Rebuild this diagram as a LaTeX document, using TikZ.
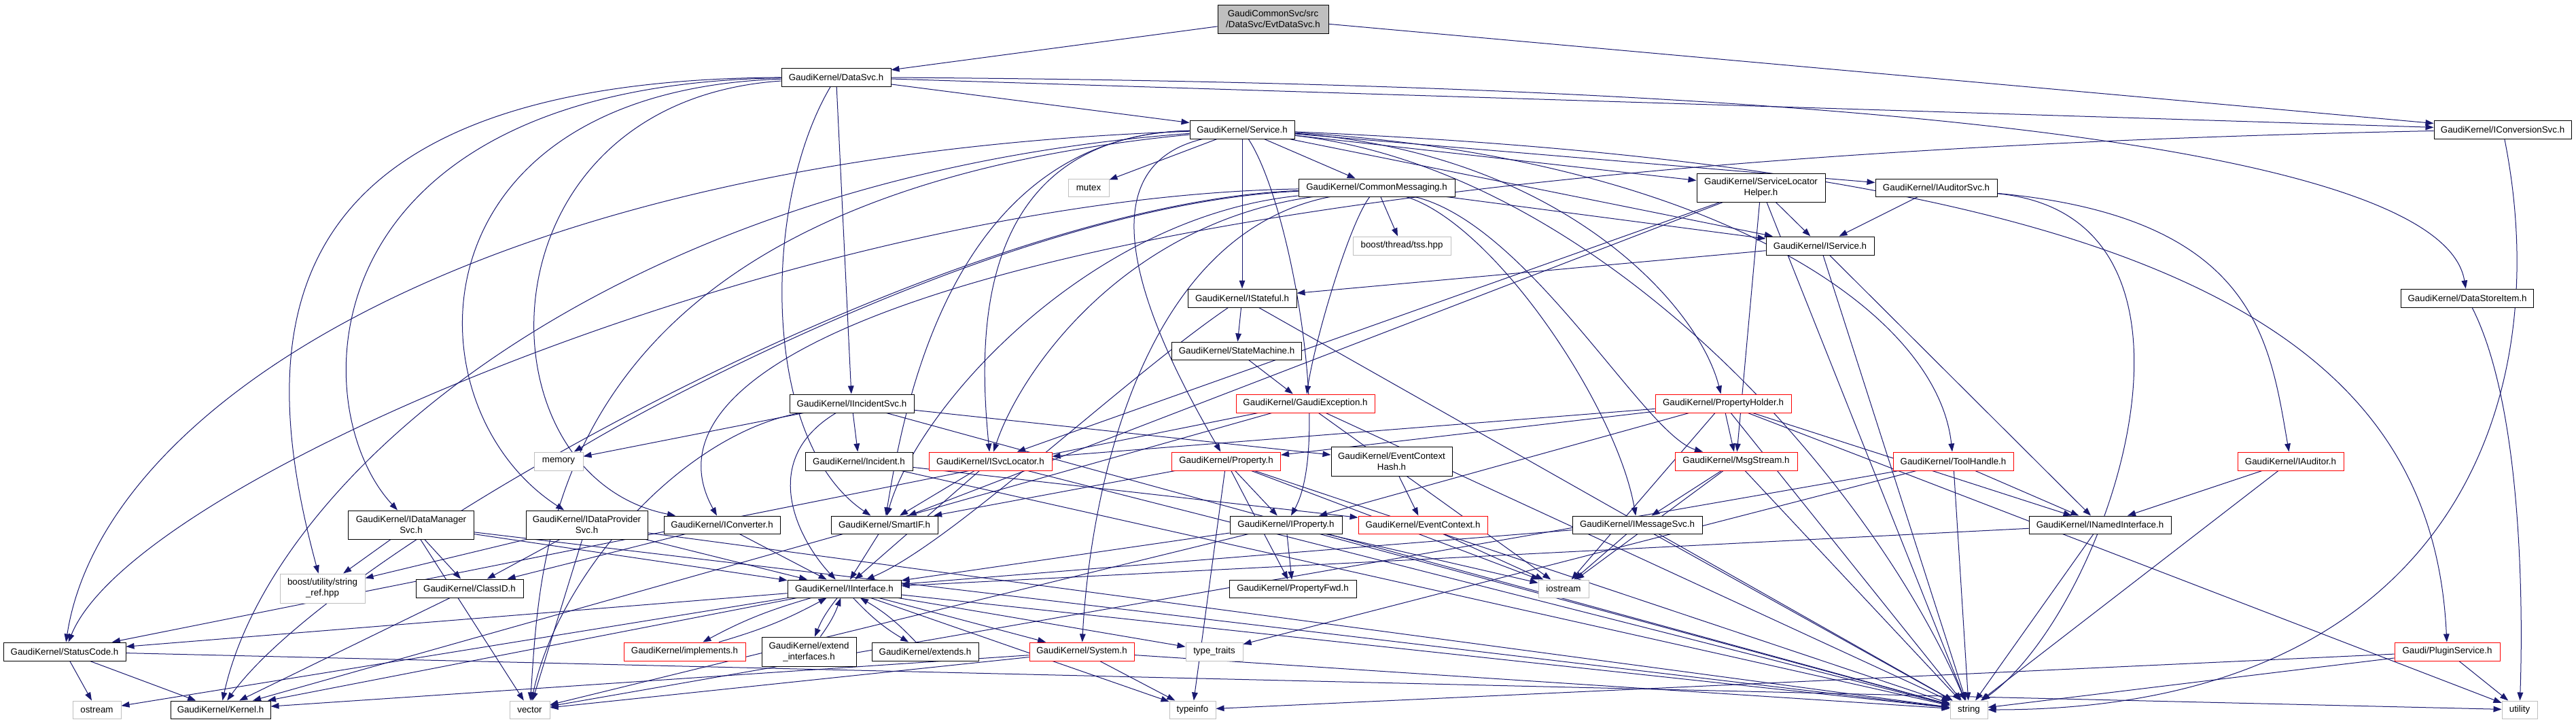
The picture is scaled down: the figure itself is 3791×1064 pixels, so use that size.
\documentclass[tikz,border=0pt]{standalone}
\usepackage{fontspec}
\setmainfont{Liberation Sans}
\usetikzlibrary{arrows.meta}
\definecolor{edgeblue}{RGB}{25,25,112}
\definecolor{sysgray}{RGB}{191,191,191}
\pgfdeclarelayer{bg}
\pgfsetlayers{bg,main}
\newcommand{\gnode}[7]{\node[#1, minimum width=#5*0.75pt, minimum height=#6*0.75pt] (#2) at (#3,#4) {#7};}
\begin{document}
\begin{tikzpicture}[x=0.75pt,y=-0.75pt,
  nodebase/.style={draw, inner sep=0pt, font=\fontsize{10}{12}\selectfont, align=center, fill=white, line width=0.75pt},
  gbox/.style={nodebase, draw=black},
  rbox/.style={nodebase, draw=red},
  sbox/.style={nodebase, draw=sysgray},
  rootbox/.style={nodebase, draw=black, fill=sysgray},
  lnk/.style={draw=edgeblue, line width=0.75pt, -{Triangle[length=9pt,width=6.5pt]}}]
\useasboundingbox (0,0) rectangle (3791,1064);
% nodes
\gnode{rootbox}{evt}{1873.5}{28}{163}{42}{GaudiCommonSvc/src\\/DataSvc/EvtDataSvc.h}
\gnode{gbox}{datasvc}{1230.5}{113.5}{161}{27}{GaudiKernel/DataSvc.h}
\gnode{gbox}{service}{1828}{190.5}{154}{27}{GaudiKernel/Service.h}
\gnode{gbox}{iconv}{3683}{190.5}{202}{27}{GaudiKernel/IConversionSvc.h}
\gnode{sbox}{mutex}{1602}{276}{60}{26}{mutex}
\gnode{gbox}{cmsg}{2026}{276}{230}{26}{GaudiKernel/CommonMessaging.h}
\gnode{gbox}{slh}{2591.5}{276}{189}{42}{GaudiKernel/ServiceLocator\\Helper.h}
\gnode{gbox}{iaudsvc}{2849.5}{276}{179}{26}{GaudiKernel/IAuditorSvc.h}
\gnode{sbox}{tss}{2063}{361.5}{144}{27}{boost/thread/tss.hpp}
\gnode{gbox}{iservice}{2678.5}{361.5}{159}{27}{GaudiKernel/IService.h}
\gnode{gbox}{istateful}{1828}{438.5}{160}{27}{GaudiKernel/IStateful.h}
\gnode{gbox}{dsitem}{3631}{438.5}{195}{27}{GaudiKernel/DataStoreItem.h}
\gnode{gbox}{statemachine}{1820}{516}{191}{26}{GaudiKernel/StateMachine.h}
\gnode{gbox}{iincsvc}{1253.5}{593.5}{183}{27}{GaudiKernel/IIncidentSvc.h}
\gnode{rbox}{gexc}{1921}{593.5}{204}{27}{GaudiKernel/GaudiException.h}
\gnode{rbox}{propholder}{2536}{593.5}{200}{27}{GaudiKernel/PropertyHolder.h}
\gnode{sbox}{memory}{822}{678.5}{72}{27}{memory}
\gnode{gbox}{incident}{1264}{678.5}{158}{27}{GaudiKernel/Incident.h}
\gnode{rbox}{isvcloc}{1457.5}{678.5}{181}{27}{GaudiKernel/ISvcLocator.h}
\gnode{rbox}{property}{1804.5}{678.5}{160}{27}{GaudiKernel/Property.h}
\gnode{gbox}{echash}{2048}{678.5}{178}{43}{GaudiKernel/EventContext\\Hash.h}
\gnode{rbox}{msgstream}{2555}{678.5}{180}{27}{GaudiKernel/MsgStream.h}
\gnode{rbox}{toolhandle}{2874.5}{678.5}{177}{27}{GaudiKernel/ToolHandle.h}
\gnode{rbox}{iauditor}{3371}{678.5}{156}{27}{GaudiKernel/IAuditor.h}
\gnode{gbox}{idms}{605}{772}{185}{42}{GaudiKernel/IDataManager\\Svc.h}
\gnode{gbox}{idps}{863.5}{772}{179}{42}{GaudiKernel/IDataProvider\\Svc.h}
\gnode{gbox}{iconverter}{1062.5}{772}{171}{26}{GaudiKernel/IConverter.h}
\gnode{gbox}{smartif}{1301.5}{772}{157}{26}{GaudiKernel/SmartIF.h}
\gnode{gbox}{iproperty}{1892.5}{772}{165}{26}{GaudiKernel/IProperty.h}
\gnode{rbox}{evctx}{2094}{772}{190}{26}{GaudiKernel/EventContext.h}
\gnode{gbox}{imsgsvc}{2409.5}{772}{191}{26}{GaudiKernel/IMessageSvc.h}
\gnode{gbox}{inamed}{3090.5}{772}{209}{26}{GaudiKernel/INamedInterface.h}
\gnode{sbox}{stringref}{474.5}{865.5}{125}{43}{boost/utility/string\\\_ref.hpp}
\gnode{gbox}{classid}{691}{865.5}{158}{27}{GaudiKernel/ClassID.h}
\gnode{gbox}{iinterface}{1242.5}{866}{167}{26}{GaudiKernel/IInterface.h}
\gnode{gbox}{propfwd}{1902.5}{866}{187}{26}{GaudiKernel/PropertyFwd.h}
\gnode{sbox}{iostream}{2301}{866}{74}{26}{iostream}
\gnode{gbox}{statuscode}{95}{958.5}{180}{27}{GaudiKernel/StatusCode.h}
\gnode{rbox}{implements}{1007.5}{958.5}{179}{27}{GaudiKernel/implements.h}
\gnode{gbox}{extendif}{1190.5}{958.5}{139}{43}{GaudiKernel/extend\\\_interfaces.h}
\gnode{gbox}{extends}{1361.5}{958.5}{157}{27}{GaudiKernel/extends.h}
\gnode{rbox}{system}{1592}{958.5}{154}{27}{GaudiKernel/System.h}
\gnode{sbox}{typetraits}{1787}{958.5}{84}{27}{type\_traits}
\gnode{rbox}{plugin}{3601.5}{958.5}{155}{27}{Gaudi/PluginService.h}
\gnode{sbox}{ostream}{142.5}{1044}{71}{26}{ostream}
\gnode{gbox}{kernel}{324.5}{1044}{147}{26}{GaudiKernel/Kernel.h}
\gnode{sbox}{vector}{779.5}{1044}{59}{26}{vector}
\gnode{sbox}{typeinfo}{1755}{1044}{68}{26}{typeinfo}
\gnode{sbox}{string}{2897.5}{1044}{55}{26}{string}
\gnode{sbox}{utility}{3708}{1044}{52}{26}{utility}
\begin{pgfonlayer}{bg}
\fill[white] (0,0) rectangle (3791,1064);
% root
\draw[lnk] (evt) -- (datasvc);
\draw[lnk] (evt) -- (iconv);
% DataSvc
\draw[lnk] (datasvc) -- (service);
\draw[lnk] (datasvc) -- (iconv);
\draw[lnk] (datasvc) .. controls (3000,125) and (3600,250) .. (dsitem);
\draw[lnk] (datasvc) -- (iincsvc);
\draw[lnk] (datasvc) .. controls (376,118) and (376,500) .. (stringref);
\draw[lnk] (datasvc) .. controls (445,125) and (445,600) .. (idms);
\draw[lnk] (datasvc) .. controls (597,135) and (597,600) .. (idps);
\draw[lnk] (datasvc) .. controls (697,150) and (697,700) .. (iconverter);
\draw[lnk] (datasvc) .. controls (1120,300) and (1120,650) .. (smartif);
% Service
\draw[lnk] (service) -- (mutex);
\draw[lnk] (service) -- (cmsg);
\draw[lnk] (service) -- (istateful);
\draw[lnk] (service) -- (slh);
\draw[lnk] (service) -- (iaudsvc);
\draw[lnk] (service) -- (iservice);
\draw[lnk] (service) .. controls (2300,225) and (2500,450) .. (propholder);
\draw[lnk] (service) .. controls (2500,230) and (2850,450) .. (toolhandle);
\draw[lnk] (service) .. controls (3200,250) and (3580,500) .. (plugin);
\draw[lnk] (service) .. controls (1430,200) and (1440,500) .. (isvcloc);
\draw[lnk] (service) .. controls (1580,250) and (1700,500) .. (property);
\draw[lnk] (service) .. controls (1400,200) and (1330,600) .. (smartif);
\draw[lnk] (service) .. controls (1900,300) and (1960,650) .. (iproperty);
\draw[lnk] (service) .. controls (700,230) and (150,600) .. (statuscode);
\draw[lnk] (service) .. controls (800,290) and (797,800) .. (vector);
\draw[lnk] (service) .. controls (900,260) and (400,700) .. (kernel);
\draw[lnk] (service) .. controls (2350,250) and (2750,700) .. (string);
% IConversionSvc
\draw[lnk] (iconv) .. controls (1700,230) and (900,480) .. (iconverter);
\draw[lnk] (iconv) .. controls (3765,600) and (3600,1044) .. (string);
% CommonMessaging
\draw[lnk] (cmsg) -- (tss);
\draw[lnk] (cmsg) .. controls (1985,330) and (1935,500) .. (gexc);
\draw[lnk] (cmsg) .. controls (1500,300) and (950,600) .. (memory);
\draw[lnk] (cmsg) .. controls (2250,330) and (2420,640) .. (msgstream);
\draw[lnk] (cmsg) .. controls (2200,330) and (2380,600) .. (imsgsvc);
\draw[lnk] (cmsg) .. controls (1650,330) and (1500,550) .. (isvcloc);
\draw[lnk] (cmsg) .. controls (1600,320) and (1350,600) .. (smartif);
\draw[lnk] (cmsg) .. controls (1650,350) and (1600,800) .. (system);
\draw[lnk] (cmsg) -- (iservice);
\draw[lnk] (cmsg) .. controls (1400,300) and (500,800) .. (kernel);
\draw[lnk] (cmsg) .. controls (1200,290) and (200,700) .. (statuscode);
% ServiceLocatorHelper
\draw[lnk] (slh) -- (iservice);
\draw[lnk] (slh) -- (isvcloc);
\draw[lnk] (slh) -- (smartif);
\draw[lnk] (slh) -- (msgstream);
\draw[lnk] (slh) -- (string);
% IAuditorSvc
\draw[lnk] (iaudsvc) -- (iservice);
\draw[lnk] (iaudsvc) .. controls (3320,320) and (3340,500) .. (iauditor);
\draw[lnk] (iaudsvc) .. controls (3300,320) and (3100,900) .. (string);
% IService
\draw[lnk] (iservice) -- (istateful);
\draw[lnk] (iservice) -- (inamed);
\draw[lnk] (iservice) -- (string);
% IStateful
\draw[lnk] (istateful) -- (statemachine);
\draw[lnk] (istateful) .. controls (1650,560) and (1400,800) .. (iinterface);
\draw[lnk] (istateful) -- (string);
\draw[lnk] (statemachine) -- (gexc);
\draw[lnk] (dsitem) .. controls (3713,600) and (3713,900) .. (utility);
% IIncidentSvc
\draw[lnk] (iincsvc) -- (incident);
\draw[lnk] (iincsvc) -- (echash);
\draw[lnk] (iincsvc) -- (memory);
\draw[lnk] (iincsvc) .. controls (1110,680) and (1180,800) .. (iinterface);
\draw[lnk] (iincsvc) -- (string);
\draw[lnk] (iincsvc) .. controls (1000,640) and (820,850) .. (vector);
% GaudiException
\draw[lnk] (gexc) -- (kernel);
\draw[lnk] (gexc) -- (statuscode);
\draw[lnk] (gexc) -- (string);
\draw[lnk] (gexc) -- (iostream);
% PropertyHolder
\draw[lnk] (propholder) -- (property);
\draw[lnk] (propholder) -- (iproperty);
\draw[lnk] (propholder) -- (isvcloc);
\draw[lnk] (propholder) -- (msgstream);
\draw[lnk] (propholder) -- (inamed);
\draw[lnk] (propholder) -- (string);
\draw[lnk] (propholder) -- (iostream);
\draw[lnk] (propholder) -- (utility);
% ISvcLocator
\draw[lnk] (isvcloc) -- (iinterface);
\draw[lnk] (isvcloc) -- (smartif);
\draw[lnk] (isvcloc) -- (string);
% Property
\draw[lnk] (property) -- (iproperty);
\draw[lnk] (property) -- (propfwd);
\draw[lnk] (property) -- (smartif);
\draw[lnk] (property) -- (typeinfo);
\draw[lnk] (property) -- (string);
\draw[lnk] (property) -- (iostream);
% misc
\draw[lnk] (incident) -- (evctx);
\draw[lnk] (incident) -- (string);
\draw[lnk] (echash) -- (evctx);
\draw[lnk] (msgstream) -- (imsgsvc);
\draw[lnk] (msgstream) -- (string);
\draw[lnk] (msgstream) -- (iostream);
\draw[lnk] (toolhandle) -- (inamed);
\draw[lnk] (toolhandle) -- (string);
\draw[lnk] (toolhandle) -- (typetraits);
\draw[lnk] (toolhandle) -- (vector);
\draw[lnk] (iauditor) -- (inamed);
\draw[lnk] (iauditor) -- (string);
% IDataManagerSvc / IDataProviderSvc
\draw[lnk] (idms) -- (stringref);
\draw[lnk] (idms) -- (classid);
\draw[lnk] (idms) -- (vector);
\draw[lnk] (idms) -- (iinterface);
\draw[lnk] (idms) -- (string);
\draw[lnk] (idps) -- (stringref);
\draw[lnk] (idps) -- (classid);
\draw[lnk] (idps) -- (iinterface);
\draw[lnk] (idps) -- (string);
\draw[lnk] (idps) -- (vector);
\draw[lnk] (iconverter) -- (iinterface);
\draw[lnk] (iconverter) -- (classid);
\draw[lnk] (smartif) -- (iinterface);
% IProperty
\draw[lnk] (iproperty) -- (iinterface);
\draw[lnk] (iproperty) -- (propfwd);
\draw[lnk] (iproperty) -- (string);
\draw[lnk] (iproperty) -- (vector);
\draw[lnk] (iproperty) -- (iostream);
\draw[lnk] (evctx) -- (iostream);
\draw[lnk] (imsgsvc) -- (iinterface);
\draw[lnk] (imsgsvc) -- (iostream);
\draw[lnk] (imsgsvc) -- (string);
\draw[lnk] (inamed) -- (iinterface);
\draw[lnk] (inamed) -- (string);
\draw[lnk] (classid) -- (kernel);
% IInterface
\draw[lnk] (iinterface) -- (kernel);
\draw[lnk] (iinterface) -- (statuscode);
\draw[lnk] (iinterface) -- (ostream);
\draw[lnk] (iinterface) to[bend right=6] (implements);
\draw[lnk] (implements) to[bend right=6] (iinterface);
\draw[lnk] (iinterface) to[bend right=8] (extendif);
\draw[lnk] (extendif) to[bend right=8] (iinterface);
\draw[lnk] (iinterface) to[bend right=8] (extends);
\draw[lnk] (extends) to[bend right=8] (iinterface);
\draw[lnk] (iinterface) -- (system);
\draw[lnk] (iinterface) -- (typetraits);
\draw[lnk] (iinterface) -- (typeinfo);
\draw[lnk] (iinterface) -- (string);
% System, StatusCode, PluginService
\draw[lnk] (system) -- (kernel);
\draw[lnk] (system) -- (typeinfo);
\draw[lnk] (system) -- (string);
\draw[lnk] (system) -- (vector);
\draw[lnk] (statuscode) -- (ostream);
\draw[lnk] (statuscode) -- (kernel);
\draw[lnk] (statuscode) -- (utility);
\draw[lnk] (plugin) -- (typeinfo);
\draw[lnk] (plugin) -- (string);
\draw[lnk] (plugin) -- (utility);
\end{pgfonlayer}
\end{tikzpicture}
\end{document}
